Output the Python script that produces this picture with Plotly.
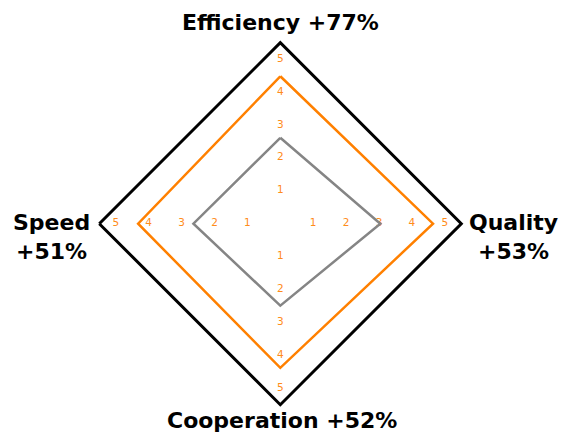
import plotly.graph_objects as go

categories = ["Efficiency", "Quality", "Cooperation", "Speed"]
gains = ["+77%", "+53%", "+52%", "+51%"]
before = [2.61, 3.04, 2.49, 2.64]
after = [4.48, 4.64, 4.38, 4.32]
tick_values = [1, 2, 3, 4, 5]
tick_labels = ["1", "2", "3", "4", "5"]
r_max = 5.5

ORANGE = "#ff8000"
TICK_ORANGE = "#ff8c1a"
GRAY = "#858585"
FONT = "DejaVu Sans"

fig = go.Figure()

# tick labels along each axis
for cat in categories:
    fig.add_trace(go.Scatterpolar(
        r=tick_values, theta=[cat] * len(tick_values), text=tick_labels,
        mode="text", textposition="middle center",
        textfont=dict(family=FONT, size=10.5, color=TICK_ORANGE),
        showlegend=False, hoverinfo="skip"))

def closed(v):
    return list(v) + [v[0]]

fig.add_trace(go.Scatterpolar(
    r=closed(before), theta=closed(categories), mode="lines",
    line=dict(color=GRAY, width=2.5), showlegend=False))
fig.add_trace(go.Scatterpolar(
    r=closed(after), theta=closed(categories), mode="lines",
    line=dict(color=ORANGE, width=2.5), showlegend=False))

W, H = 566, 432
cx, cy, rad = 280.3, 223.7, 181
fig.update_layout(
    width=W, height=H,
    margin=dict(l=0, r=0, t=0, b=0),
    paper_bgcolor="white", plot_bgcolor="white",
    polar=dict(
        domain=dict(x=[(cx - rad) / W, (cx + rad) / W],
                    y=[(H - cy - rad) / H, (H - cy + rad) / H]),
        gridshape="linear",
        bgcolor="white",
        radialaxis=dict(range=[0, r_max], visible=False, showgrid=False),
        angularaxis=dict(type="category", categoryarray=categories,
                         rotation=90, direction="clockwise",
                         showgrid=False, showticklabels=False, ticks="",
                         showline=True, linecolor="black", linewidth=3),
    ),
)

lab = {c: f"<b>{c} {g}</b>" for c, g in zip(categories, gains)}
lab2 = {c: f"<b>{c}<br>{g}</b>" for c, g in zip(categories, gains)}
fnt = dict(family=FONT, size=22, color="black")
fig.add_annotation(x=280 / W, y=(H - 23) / H, xref="paper", yref="paper",
                   text=lab["Efficiency"], showarrow=False, font=fnt,
                   xanchor="center", yanchor="middle")
fig.add_annotation(x=282 / W, y=(H - 420) / H, xref="paper", yref="paper",
                   text=lab["Cooperation"], showarrow=False, font=fnt,
                   xanchor="center", yanchor="middle")
fig.add_annotation(x=51 / W, y=(H - 236.5) / H, xref="paper", yref="paper",
                   text=lab2["Speed"], showarrow=False, font=fnt,
                   xanchor="center", yanchor="middle", align="center")
fig.add_annotation(x=513 / W, y=(H - 236.5) / H, xref="paper", yref="paper",
                   text=lab2["Quality"], showarrow=False, font=fnt,
                   xanchor="center", yanchor="middle", align="center")

fig.write_html("out.html",
               config={"displayModeBar": False},
               post_script="document.body.style.margin='0';")
